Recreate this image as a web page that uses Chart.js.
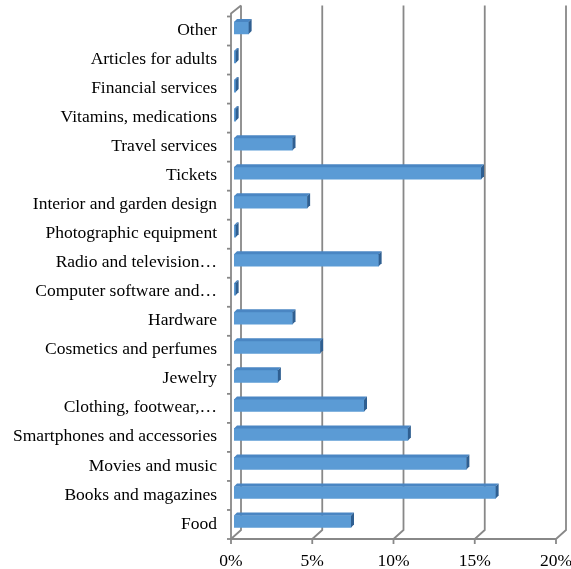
<!DOCTYPE html>
<html>
<head>
<meta charset="utf-8">
<script src="https://cdn.jsdelivr.net/npm/chart.js@4/dist/chart.umd.min.js"></script>
<style>
  html, body { margin: 0; padding: 0; background: #fff; }
  #wrap { width: 571px; height: 569px; }
</style>
</head>
<body>
<div id="wrap"><canvas id="myChart" width="571" height="569"></canvas></div>
<script>
// categories from top to bottom, as in the picture
const categories = [
  'Other', 'Articles for adults', 'Financial services', 'Vitamins, medications',
  'Travel services', 'Tickets', 'Interior and garden design', 'Photographic equipment',
  'Radio and television…', 'Computer software and…', 'Hardware', 'Cosmetics and perfumes',
  'Jewelry', 'Clothing, footwear,…', 'Smartphones and accessories', 'Movies and music',
  'Books and magazines', 'Food'
];
// share in percent
const shares = [0.9, 0.1, 0.1, 0.1, 3.6, 15.2, 4.5, 0.1, 8.9, 0.1, 3.6, 5.3, 2.7, 8.0, 10.7, 14.3, 16.1, 7.2];
const xTicks = [0, 5, 10, 15, 20];

const FONT = { family: '"Liberation Serif", "Times New Roman", serif', size: 17.5 };
const DX = 10, DY = 9;     // depth of the back wall
const BX = 3, BY = 3;      // depth of a bar
const lineCol = '#888888';

// 3D frame: back wall grid lines, floor and left wall
const frame3d = {
  id: 'frame3d',
  beforeDatasetsDraw(chart) {
    const ctx = chart.ctx;
    const a = chart.chartArea;
    const xs = chart.scales.x;
    ctx.save();
    ctx.strokeStyle = lineCol;
    ctx.lineWidth = 1.8;
    const fy = a.bottom + 3;
    xTicks.forEach(function (v) {
      const px = xs.getPixelForValue(v);
      ctx.beginPath();
      ctx.moveTo(px - 3 + DX, a.top - DY + 1);
      ctx.lineTo(px - 3 + DX, fy - DY);
      ctx.lineTo(px - 3, fy);
      ctx.stroke();
      // tick mark on the floor
      ctx.beginPath();
      ctx.moveTo(px - 3, fy);
      ctx.lineTo(px - 3, fy + 5);
      ctx.stroke();
    });
    const x0 = xs.getPixelForValue(0) - 3;
    const x1 = xs.getPixelForValue(20) - 3;
    ctx.beginPath();
    ctx.moveTo(x0, fy);
    ctx.lineTo(x1, fy);
    ctx.stroke();
    // left wall
    ctx.beginPath();
    ctx.moveTo(x0 + DX, a.top - DY + 1);
    ctx.lineTo(x0, a.top);
    ctx.lineTo(x0, fy);
    ctx.stroke();
    // category ticks at boundaries
    const step = (a.bottom - a.top) / categories.length;
    for (let i = 0; i <= categories.length; i++) {
      const yy = a.top + 3 + i * step;
      ctx.beginPath();
      ctx.moveTo(x0 - 4, yy);
      ctx.lineTo(x0, yy);
      ctx.stroke();
    }
    ctx.restore();
  },
  afterDatasetsDraw(chart) {
    const ctx = chart.ctx;
    const meta = chart.getDatasetMeta(0);
    ctx.save();
    meta.data.forEach(function (bar) {
      const p = bar.getProps(['x', 'y', 'base', 'height'], true);
      const t = p.y - p.height / 2;
      const b = p.y + p.height / 2;
      // top face
      ctx.fillStyle = '#4a86c3';
      ctx.beginPath();
      ctx.moveTo(p.base, t);
      ctx.lineTo(p.x, t);
      ctx.lineTo(p.x + BX, t - BY);
      ctx.lineTo(p.base + BX, t - BY);
      ctx.closePath();
      ctx.fill();
      // side face
      ctx.fillStyle = '#2f5f91';
      ctx.beginPath();
      ctx.moveTo(p.x, t);
      ctx.lineTo(p.x + BX, t - BY);
      ctx.lineTo(p.x + BX, b - BY);
      ctx.lineTo(p.x, b);
      ctx.closePath();
      ctx.fill();
    });
    ctx.restore();
  }
};

const ctx = document.getElementById('myChart').getContext('2d');
new Chart(ctx, {
  type: 'bar',
  data: {
    labels: categories,
    datasets: [{
      data: shares,
      backgroundColor: '#5b9bd5',
      borderWidth: 0,
      barThickness: 12
    }]
  },
  options: {
    indexAxis: 'y',
    responsive: false,
    animation: false,
    layout: { padding: { top: 13.5, right: 12, left: 0, bottom: 0 } },
    plugins: { legend: { display: false }, tooltip: { enabled: false } },
    scales: {
      x: {
        min: 0,
        max: 20,
        afterBuildTicks(s) { s.ticks = xTicks.map(v => ({ value: v })); },
        afterFit(s) { s.height = 33; s.paddingLeft = 0; s.paddingRight = 0; },
        grid: { display: false, drawTicks: false },
        border: { display: false },
        ticks: {
          font: FONT,
          color: '#000',
          padding: 15,
          labelOffset: -3,
          maxRotation: 0,
          callback: v => v + '%'
        }
      },
      y: {
        afterFit(s) { s.width = 234; s.paddingTop = 0; s.paddingBottom = 0; },
        grid: { display: false, drawTicks: false },
        border: { display: false },
        ticks: { font: FONT, color: '#000', padding: 17, labelOffset: 2.5, autoSkip: false }
      }
    }
  },
  plugins: [frame3d]
});
</script>
</body>
</html>
